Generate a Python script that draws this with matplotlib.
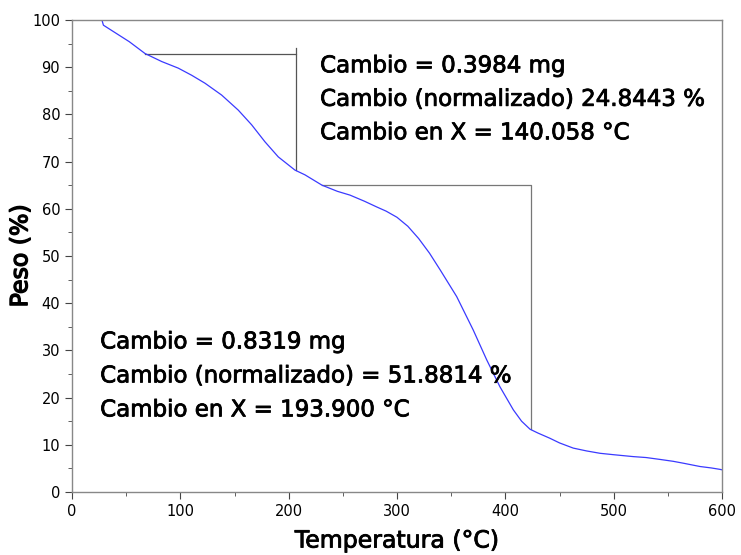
import matplotlib
matplotlib.use("Agg")
from matplotlib import pyplot as plt
import matplotlib.patheffects as pe

# TGA curve
temp = [28.0, 29.0, 40.6, 52.9, 67.4, 82.8, 98.1, 110.4, 122.8, 138.1, 153.5, 165.8,
        178.1, 190.4, 205.8, 215.0, 230.8, 245.0, 256.6, 270.0, 281.2, 290.0, 300.0,
        310.0, 320.0, 330.0, 340.0, 355.1, 370.4, 382.8, 395.0, 407.4, 415.0, 422.8,
        430.0, 441.0, 450.0, 462.7, 475.0, 487.4, 500.0, 518.0, 530.0, 542.8, 555.0,
        564.3, 579.7, 590.0, 598.0, 600.0]
peso = [99.7, 98.9, 97.2, 95.4, 92.9, 91.2, 89.8, 88.3, 86.6, 84.1, 80.9, 77.8,
        74.2, 71.0, 68.2, 67.2, 65.0, 63.7, 62.9, 61.6, 60.4, 59.5, 58.2,
        56.3, 53.7, 50.6, 47.0, 41.4, 34.3, 28.0, 22.3, 17.4, 15.0, 13.3,
        12.5, 11.4, 10.4, 9.3, 8.7, 8.2, 7.9, 7.5, 7.3, 6.9, 6.5,
        6.1, 5.4, 5.1, 4.8, 4.7]

# step markers (horizontal + vertical lines)
paso1_x = [67.4, 206.7, 206.7]
paso1_y = [92.9, 92.9, 68.2]
paso1_top = 94.0
paso2_x = [230.5, 423.4, 423.4]
paso2_y = [65.0, 65.0, 13.3]

texto1 = ["Cambio = 0.3984 mg", "Cambio (normalizado) 24.8443 %", "Cambio en X = 140.058 °C"]
texto2 = ["Cambio = 0.8319 mg", "Cambio (normalizado) = 51.8814 %", "Cambio en X = 193.900 °C"]

plt.rcParams['font.family'] = ['DejaVu Sans']
grueso = [pe.withStroke(linewidth=0.6, foreground="black")]

fig = plt.figure(figsize=(7.41, 5.55), dpi=100)
ax = fig.add_axes([72 / 741, 1 - 492 / 555, 650 / 741, 472 / 555])

ax.plot(paso1_x, paso1_y, color="#555555", lw=0.9)
ax.plot([paso1_x[1], paso1_x[1]], [paso1_top, paso1_y[1]], color="#555555", lw=0.9)
ax.plot(paso2_x, paso2_y, color="#777777", lw=0.9)
ax.plot(temp, peso, color="#3a3aff", lw=0.9)

for i, t in enumerate(texto1):
    ax.text(229, 90.3 - i * 7.1, t, fontsize=16.5, va="center", ha="left", path_effects=grueso)
for i, t in enumerate(texto2):
    ax.text(26, 31.8 - i * 7.2, t, fontsize=16.5, va="center", ha="left", path_effects=grueso)

ax.set_xlim(0, 600)
ax.set_ylim(0, 100)
ax.set_xticks(range(0, 601, 100))
ax.set_xticks(range(50, 600, 100), minor=True)
ax.set_yticks(range(0, 101, 10))
ax.set_yticks(range(5, 100, 10), minor=True)
ax.tick_params(which="both", direction="out", color="#444444", labelsize=10.5)
ax.tick_params(which="major", length=5)
ax.tick_params(which="minor", length=3)
for s in ax.spines.values():
    s.set_color("#888888")
    s.set_linewidth(1.0)

ax.set_xlabel("Temperatura (°C)", fontsize=17, labelpad=7, path_effects=grueso)
ax.set_ylabel("Peso (%)", fontsize=17, labelpad=0, path_effects=[pe.withStroke(linewidth=1.0, foreground="black")])

fig.savefig("out.png", dpi=100)
